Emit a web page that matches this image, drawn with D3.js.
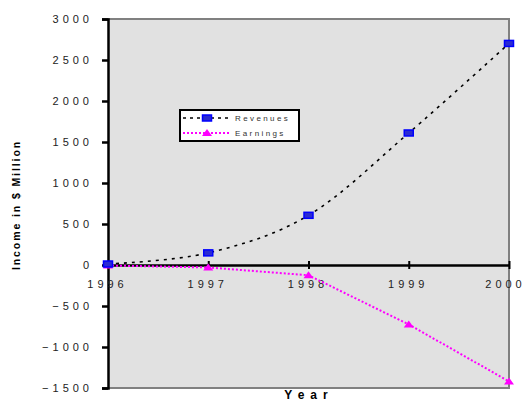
<!DOCTYPE html>
<html>
<head>
<meta charset="utf-8">
<script src="https://cdn.jsdelivr.net/npm/d3@7"></script>
<style>
  html, body { margin: 0; padding: 0; background: #fff; }
  svg { display: block; font-family: Arial, "Liberation Sans", sans-serif; }
</style>
</head>
<body>
<svg id="chart" width="526" height="402"></svg>
<script>
// Yearly figures in $ million
const years = [1996, 1997, 1998, 1999, 2000];
const revenues = [12, 148, 606, 1610, 2702];
const earnings = [-6, -30, -125, -725, -1420];
const yTicks = [3000, 2500, 2000, 1500, 1000, 500, 0, -500, -1000, -1500];
const seriesNames = ["Revenues", "Earnings"];

const svg = d3.select("#chart");
const plot = { left: 108, right: 509, top: 19, bottom: 388 };

const x = d3.scaleLinear().domain([1996, 2000]).range([plot.left, plot.right]);
const y = d3.scaleLinear().domain([-1500, 3000]).range([plot.bottom, plot.top]);

// plot area
svg.append("rect")
  .attr("x", plot.left).attr("y", plot.top)
  .attr("width", plot.right - plot.left).attr("height", plot.bottom - plot.top)
  .attr("fill", "#e1e1e1");

// gray frame on top, right, bottom
svg.append("path")
  .attr("d", `M${plot.left},${plot.top}H${plot.right}V${plot.bottom}H${plot.left}`)
  .attr("fill", "none").attr("stroke", "#808080").attr("stroke-width", 2);

// y axis
const yAxis = d3.axisLeft(y).tickValues(yTicks).tickSize(6).tickPadding(9)
  .tickFormat(d3.format("d"));
const gy = svg.append("g").attr("transform", `translate(${plot.left},0)`).call(yAxis);
gy.select(".domain").attr("stroke", "#000").attr("stroke-width", 2.5);
gy.selectAll(".tick line").attr("stroke", "#000").attr("stroke-width", 2.5);
gy.selectAll(".tick text")
  .attr("font-size", 11).attr("fill", "#222")
  .attr("letter-spacing", "4px")
  .attr("x", -15).attr("dy", "0.3em");

// zero line with year ticks
const xAxis = d3.axisBottom(x).tickValues(years).tickSize(0).tickPadding(0)
  .tickFormat(d3.format("d"));
const gx = svg.append("g").attr("transform", `translate(0,${y(0)})`).call(xAxis);
gx.select(".domain").attr("stroke", "#000").attr("stroke-width", 2.5);
gx.selectAll(".tick line").attr("y1", -4).attr("y2", 4)
  .attr("stroke", "#000").attr("stroke-width", 2);
gx.selectAll(".tick text")
  .attr("font-size", 11).attr("fill", "#222")
  .attr("letter-spacing", "4px")
  .attr("dx", (d, i) => i === years.length - 1 ? "-4px" : "-1px")  // keep the last label inside the page
  .attr("y", 23).attr("dy", 0);

// revenues drawn as a smoothed line, earnings as straight segments
const smooth = d3.line().curve(d3.curveCatmullRom.alpha(0))
  .x((d, i) => x(years[i])).y(d => y(d));
const straight = d3.line()
  .x((d, i) => x(years[i])).y(d => y(d));

svg.append("path").datum(revenues)
  .attr("d", smooth).attr("fill", "none")
  .attr("stroke", "#000").attr("stroke-width", 1.6)
  .attr("stroke-dasharray", "3,5");

svg.append("path").datum(earnings)
  .attr("d", straight).attr("fill", "none")
  .attr("stroke", "#ff00ff").attr("stroke-width", 2)
  .attr("stroke-dasharray", "2,2");

// markers
function square(g, cx, cy) {
  g.append("rect").attr("x", cx - 4.5).attr("y", cy - 3)
    .attr("width", 9).attr("height", 6)
    .attr("fill", "#2b2bd0").attr("stroke", "#0000ff").attr("stroke-width", 1.5);
}
function triangle(g, cx, cy) {
  g.append("path")
    .attr("d", `M${cx - 5},${cy + 3}L${cx},${cy - 4}L${cx + 5},${cy + 3}Z`)
    .attr("fill", "#ff00ff");
}
const mk = svg.append("g");
earnings.forEach((v, i) => triangle(mk, x(years[i]), y(v)));
revenues.forEach((v, i) => square(mk, x(years[i]), y(v)));

// legend
const lg = svg.append("g");
lg.append("rect").attr("x", 180).attr("y", 110).attr("width", 119).attr("height", 31)
  .attr("fill", "#fff").attr("stroke", "#000").attr("stroke-width", 2);
const rows = [
  { name: seriesNames[0], y: 118, color: "#000", dash: "3,4", w: 1.6, mark: square },
  { name: seriesNames[1], y: 133, color: "#ff00ff", dash: "2,2", w: 2, mark: triangle }
];
rows.forEach(r => {
  lg.append("line").attr("x1", 183).attr("x2", 231).attr("y1", r.y).attr("y2", r.y)
    .attr("stroke", r.color).attr("stroke-width", r.w).attr("stroke-dasharray", r.dash);
  r.mark(lg, 207, r.y);
  lg.append("text").attr("x", 235).attr("y", r.y + 3)
    .attr("font-size", 8).attr("letter-spacing", "2.4px").attr("fill", "#333")
    .text(r.name);
});

// axis titles
svg.append("text")
  .attr("transform", "translate(20,205) rotate(-90)")
  .attr("text-anchor", "middle")
  .attr("font-size", 10.5).attr("font-weight", "bold").attr("letter-spacing", "1.9px")
  .text("Income in $ Million");

svg.append("text")
  .attr("x", 309).attr("y", 399)
  .attr("text-anchor", "middle")
  .attr("font-size", 12).attr("font-weight", "bold").attr("letter-spacing", "6px")
  .text("Year");
</script>
</body>
</html>
